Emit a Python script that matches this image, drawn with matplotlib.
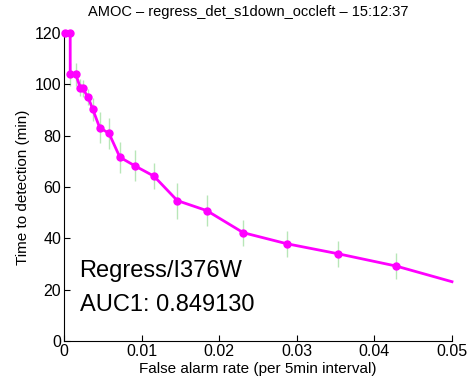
import matplotlib
matplotlib.use('Agg')
import matplotlib.pyplot as plt
import numpy as np

plt.rcParams['font.family'] = ['Liberation Sans', 'DejaVu Sans']

# false alarm rate vs time to detection
far = [0.0001, 0.0008, 0.0008, 0.0015, 0.0021, 0.0024, 0.0031, 0.0037,
       0.0046, 0.0058, 0.0072, 0.0091, 0.0116, 0.0146, 0.0184, 0.0231,
       0.0287, 0.0353, 0.0428, 0.05]
ttd = [120, 120, 104, 104, 98.7, 98.4, 95, 90.3, 83.1, 80.9, 71.6, 68.3,
       64.2, 54.7, 50.8, 42.2, 37.9, 34.0, 29.2, 23.1]
err = [0, 0, 4.5, 4.5, 3.3, 3.3, 3, 4.5, 6, 6, 6, 6, 5, 7, 6, 5, 5, 5, 5, 0]

title = 'AMOC \u2013 regress_det_s1down_occleft \u2013 15:12:37'
label1 = 'Regress/I376W'
label2 = 'AUC1: 0.849130'

fig = plt.figure(figsize=(4.72, 3.81), dpi=100)
ax = fig.add_axes([0.1356, 0.105, 0.822, 0.8084])

# error bars first, then the curve on top
ax.errorbar(far[:-1], ttd[:-1], yerr=err[:-1], fmt='none',
            ecolor='#b8e6b8', elinewidth=1, capsize=0, zorder=1)
ax.plot(far, ttd, color='#ff00ff', lw=2, zorder=2, clip_on=False)
ax.plot(far[:-1], ttd[:-1], 'o', color='#ff00ff', ms=5, zorder=3,
        clip_on=False)

ax.set_xlim(0, 0.05)
ax.set_ylim(0, 120)
ax.set_xticks(np.arange(0, 0.051, 0.01))
ax.set_xticklabels(['0', '0.01', '0.02', '0.03', '0.04', '0.05'])
ax.set_yticks(range(0, 121, 20))
ax.tick_params(direction='in', length=4, labelsize=11.5, pad=2)
ax.spines['top'].set_visible(False)
ax.spines['right'].set_visible(False)

ax.set_xlabel('False alarm rate (per 5min interval)', fontsize=11, labelpad=2)
ax.set_ylabel('Time to detection (min)', fontsize=11, labelpad=3)
ax.set_title(title, fontsize=10.5, pad=12, x=0.475)

ax.text(0.002, 25.0, label1, fontsize=17)
ax.text(0.002, 11.8, label2, fontsize=17)

fig.savefig('out.png', dpi=100)
